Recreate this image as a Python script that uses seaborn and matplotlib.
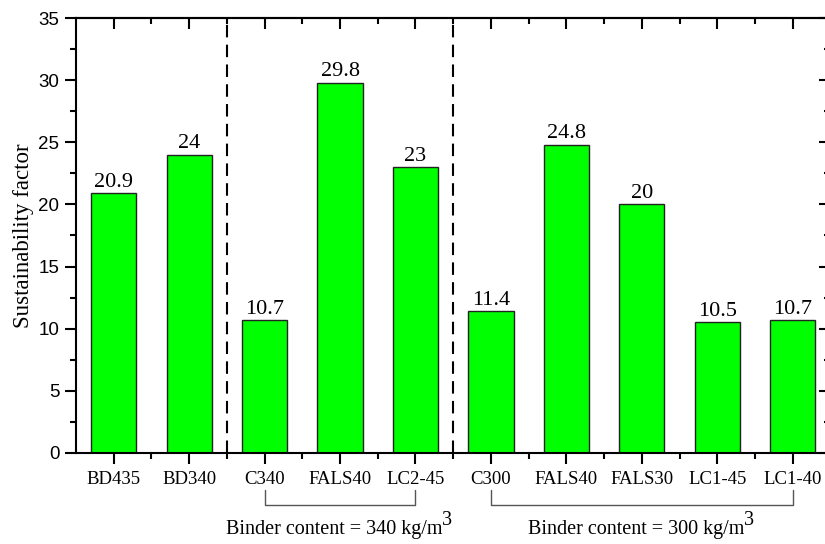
# Sustainability factor bar chart
import numpy as np
import pandas as pd
import matplotlib
matplotlib.use("Agg")
import matplotlib.pyplot as plt
import matplotlib.transforms as mtransforms
from matplotlib.ticker import MultipleLocator, FixedLocator
import seaborn as sns

# Data
mixes = ["BD435", "BD340", "C340", "FALS40", "LC2-45",
         "C300", "FALS40", "FALS30", "LC1-45", "LC1-40"]
sus_factor = [20.9, 24, 10.7, 29.8, 23, 11.4, 24.8, 20, 10.5, 10.7]
group_names = ["Binder content = 340 kg/m", "Binder content = 300 kg/m"]
group_spans = [(2, 4), (5, 9)]
separators = [1.5, 4.5]

df = pd.DataFrame({"pos": range(len(mixes)), "mix": mixes, "sf": sus_factor})

sns.set_style("ticks")
plt.rcParams.update({
    "font.family": ["Liberation Serif", "DejaVu Serif"],
    "axes.linewidth": 1.5,
    "text.color": "black",
    "axes.labelcolor": "black",
    "xtick.color": "black",
    "ytick.color": "black",
    "axes.edgecolor": "black",
})

fig = plt.figure(figsize=(8.25, 5.44), dpi=100)
ax = fig.add_axes([0.0921, 0.1673, 0.9145, 0.7996])

sns.barplot(data=df, x="pos", y="sf", color="#00FF00", saturation=1,
            width=0.6, edgecolor="#222222", linewidth=1.0, ax=ax)

# value labels
ax.bar_label(ax.containers[0], labels=[f"{v:g}" for v in sus_factor],
             padding=1, fontsize=16)

# axes
ax.set_xlim(-0.5, len(mixes) - 0.5)
ax.set_ylim(0, 35)
ax.yaxis.set_major_locator(MultipleLocator(5))
ax.yaxis.set_minor_locator(MultipleLocator(2.5))
ax.xaxis.set_major_locator(FixedLocator(range(len(mixes))))
ax.xaxis.set_minor_locator(FixedLocator(np.arange(0.5, len(mixes) - 1, 1)))
ax.set_xticklabels(mixes, fontsize=13.5)
for lbl in ax.get_yticklabels():
    lbl.set_family("Liberation Sans")
    lbl.set_fontsize(13.5)
ax.tick_params(which="major", direction="out", length=8, width=1.5, pad=5)
ax.tick_params(which="minor", direction="out", length=4, width=1.5)
ax.tick_params(axis="y", pad=4)
ax.set_xlabel("")
ax.set_ylabel("Sustainability factor", fontsize=16.5, labelpad=3)

for s in ax.spines.values():
    s.set_visible(True)
    s.set_linewidth(1.5)

# mirrored inward ticks on top / right
top = ax.secondary_xaxis("top")
top.xaxis.set_major_locator(FixedLocator(range(len(mixes))))
top.xaxis.set_minor_locator(FixedLocator(np.arange(0.5, len(mixes) - 1, 1)))
top.tick_params(which="major", direction="in", length=8, width=1.5, labeltop=False)
top.tick_params(which="minor", direction="in", length=4, width=1.5)
top.spines["top"].set_linewidth(1.5)
right = ax.secondary_yaxis("right")
right.yaxis.set_major_locator(MultipleLocator(5))
right.yaxis.set_minor_locator(MultipleLocator(2.5))
right.tick_params(which="major", direction="in", length=8, width=1.5, labelright=False)
right.tick_params(which="minor", direction="in", length=4, width=1.5)

# dashed separators
for xs in separators:
    ax.axvline(xs, color="black", lw=1.5, ls=(0, (6, 3.5)))

# group brackets
trans = mtransforms.blended_transform_factory(ax.transData, ax.transAxes)
for (a, b), name in zip(group_spans, group_names):
    ax.plot([a, a, b, b], [-0.085, -0.12, -0.12, -0.085], color="#555555",
            lw=1.0, transform=trans, clip_on=False)
    t = ax.text((a + b) / 2 - 0.08, -0.175, name, transform=trans, ha="center",
                va="center", fontsize=14.5)
    ax.annotate("3", xy=(1, 0.45), xycoords=t, ha="left", va="bottom",
                fontsize=14.5)

plt.savefig("out.png", dpi=100)
